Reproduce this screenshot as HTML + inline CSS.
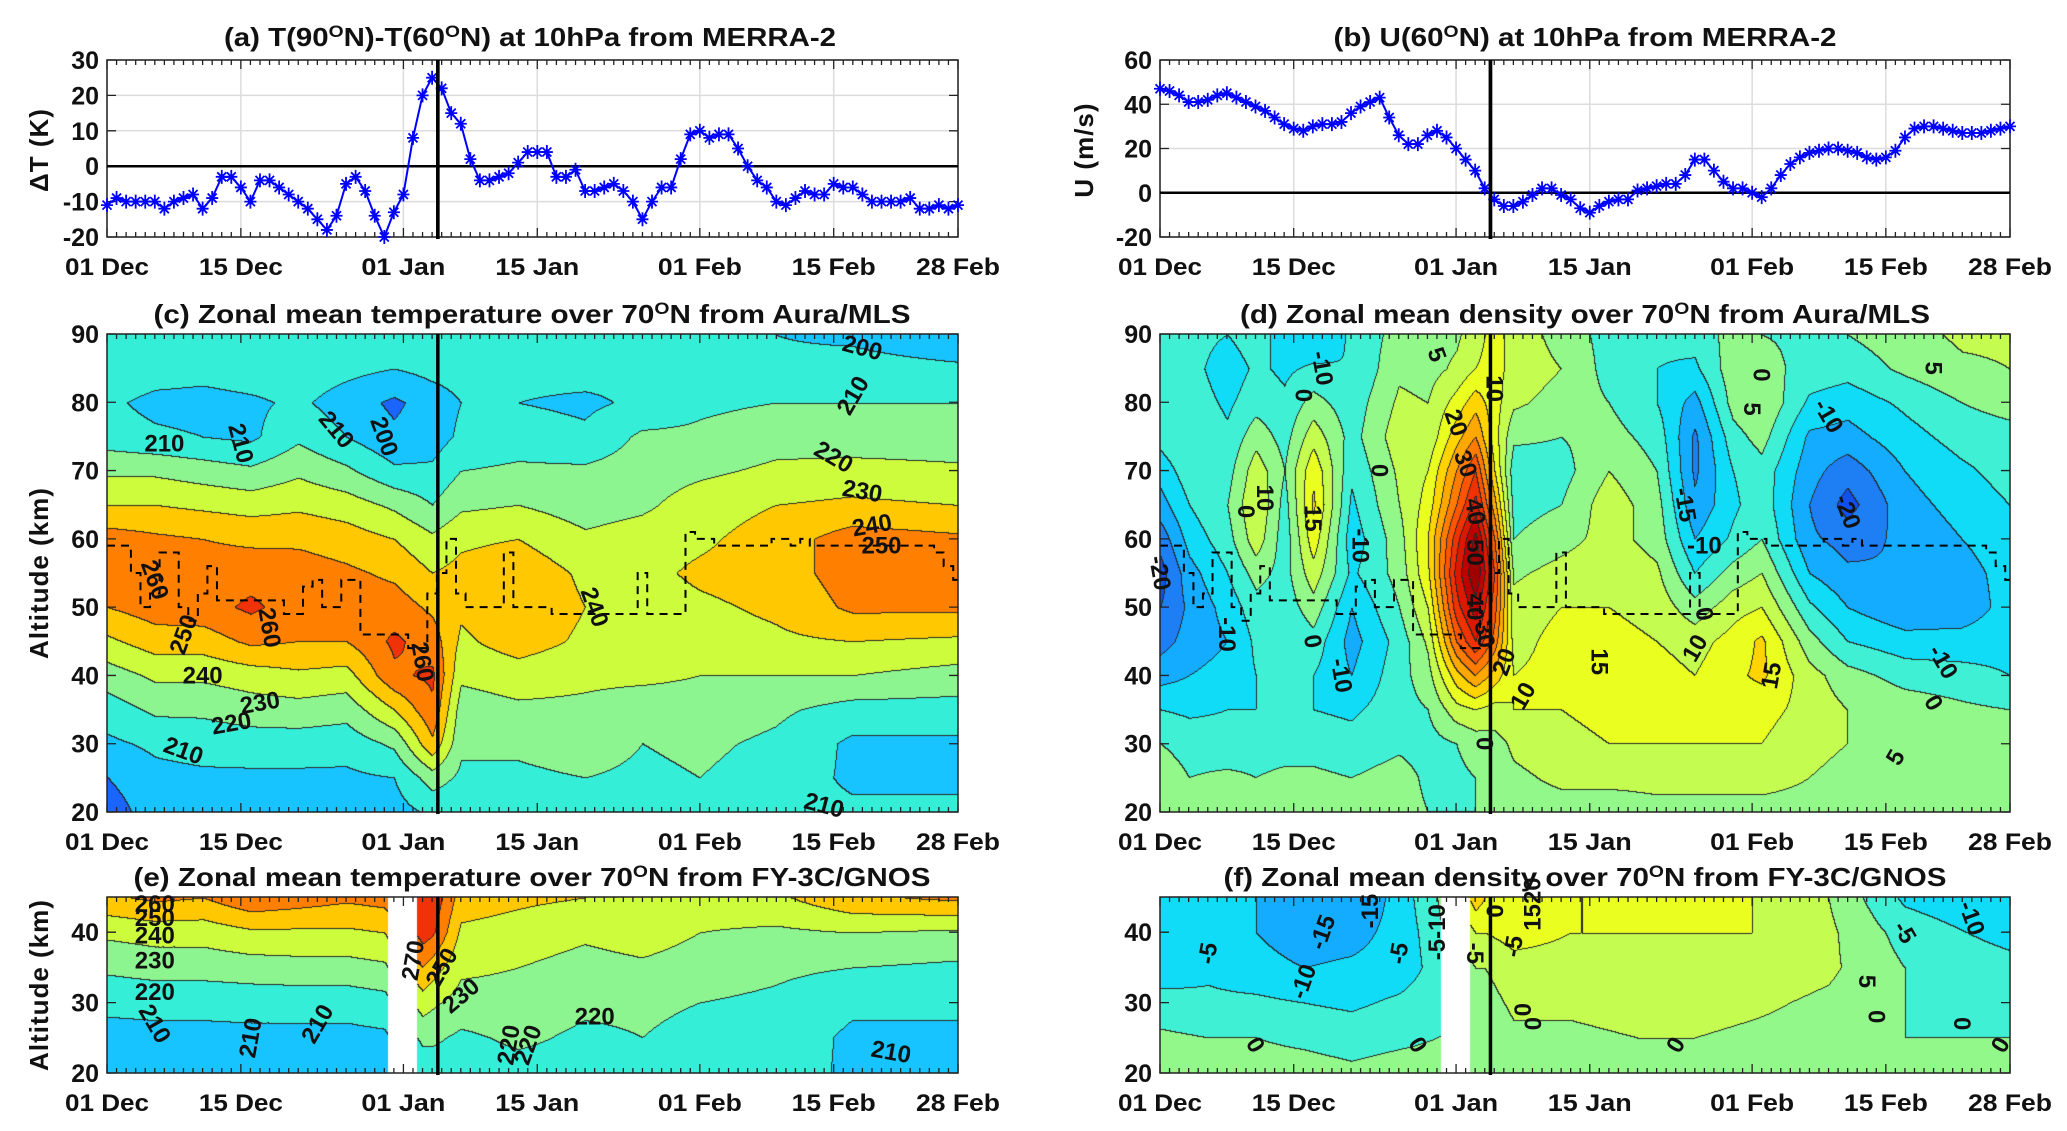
<!DOCTYPE html>
<html><head><meta charset="utf-8">
<style>
html,body{margin:0;padding:0;background:#fff;}
#wrap{position:relative;width:2067px;height:1131px;overflow:hidden;background:#fff;}
canvas{position:absolute;}
svg{position:absolute;left:0;top:0;}
text{font-family:"Liberation Sans",Arial,sans-serif;font-weight:bold;fill:#111;}
</style></head>
<body>
<div id="wrap">
<canvas id="cc" style="left:107px;top:334px" width="851" height="478"></canvas>
<canvas id="cd" style="left:1160px;top:334px" width="850" height="478"></canvas>
<canvas id="ce" style="left:107px;top:897px" width="851" height="176"></canvas>
<canvas id="cf" style="left:1160px;top:897px" width="850" height="176"></canvas>
<svg id="sv" width="2067" height="1131"></svg>
</div>
<script>
// ---------- data ----------
const dTdays = [-11,-9,-10,-10,-10,-10,-12,-10,-9,-8,-12,-9,-3,-3,-6,-10,-4,-4,-6,-8,-10,-12,-15,-18,-14,-5,-3,-7,-14,-20,-13,-8,8,20,25,22,15,12,2,-4,-4,-3,-2,1,4,4,4,-3,-3,-1,-7,-7,-6,-5,-7,-10,-15,-10,-6,-6,2,9,10,8,9,9,5,0,-4,-6,-10,-11,-9,-7,-8,-8,-5,-6,-6,-8,-10,-10,-10,-10,-9,-12,-12,-11,-12,-11];
const uWind = [47,46,44,41,41,42,44,45,43,41,39,37,34,31,29,28,30,31,31,32,36,39,41,43,34,26,22,22,26,28,25,20,15,10,2,-3,-6,-6,-4,-1,2,2,-1,-3,-7,-9,-6,-4,-3,-3,1,2,3,4,4,8,15,15,10,5,2,2,0,-2,2,8,13,16,18,19,20,20,19,18,16,15,16,19,25,29,30,30,29,28,27,27,27,28,29,30];
const stratopause = [59,59,59,55,50,52,58,58,50,48,52,56,51,51,51,51,51,51,51,49,49,53,54,50,50,54,54,46,46,46,46,46,44,44,52,55,60,52,50,50,50,50,58,50,50,50,50,49,49,49,49,49,49,49,49,49,55,49,49,49,49,61,60,60,59,59,59,59,59,59,60,60,59,60,59,59,59,59,59,59,59,59,59,59,59,59,59,58,56,54];
const xTickDays = [0,14,31,45,62,76,89];
const xTickLabels = ['01 Dec','15 Dec','01 Jan','15 Jan','01 Feb','15 Feb','28 Feb'];
const eventDay = 34.6;
const gapDays = [29.4,32.4];
const cDays = [0,5,10,15,20,25,30,34,37,43,50,56,62,70,78,89];
const cAlts = [20,25,30,35,40,45,50,55,60,65,70,75,80,85,90];
const cTemp = [
[195,200,208,215,225,238,250,258,255,240,228,215,212,218,212],
[205,207,212,222,232,245,255,258,252,240,228,212,207,215,212],
[206,208,214,222,232,245,256,255,250,238,225,210,206,214,212],
[206,208,215,225,235,252,262,256,248,236,222,208,208,216,212],
[206,208,215,226,238,250,255,255,248,238,228,218,212,216,212],
[206,208,214,224,236,250,256,252,245,235,222,210,205,213,212],
[206,210,222,240,258,262,255,248,240,228,212,202,198,210,212],
[212,225,248,258,262,255,248,240,232,220,212,205,205,213,210],
[212,218,222,225,232,238,242,243,238,228,220,212,210,214,212],
[212,218,222,228,235,245,248,247,240,230,222,215,210,213,212],
[214,220,225,228,232,238,240,238,232,225,222,212,208,214,212],
[214,218,220,225,232,235,235,237,235,228,225,222,212,212,212],
[216,220,222,226,230,235,238,242,238,235,228,222,218,212,212],
[214,216,218,222,230,238,242,245,245,240,232,226,220,212,210],
[212,208,208,216,230,240,252,255,255,242,234,224,220,214,208],
[212,208,208,216,226,238,252,255,252,240,232,224,220,212,202]];
const dDays = [0,3,7,10,13,16,20,25,28,31,33,35,37,42,47,52,56,60,63,68,72,78,84,89];
const dDens = [
[2,3,0,-5,-12,-17,-20,-22,-18,-12,-8,-3,-2,-3,-2],
[2,0,-2,-6,-10,-13,-14,-12,-8,-5,-2,0,-2,-3,-3],
[3,1,-3,-5,-8,-10,-8,-5,-2,0,-2,-4,-6,-8,-5],
[3,0,-2,-5,-5,-4,-2,2,8,10,8,3,-2,-4,-2],
[3,1,-2,-4,-4,-5,-3,-2,-3,-2,0,-2,-4,-6,-8],
[2,1,-2,-5,-5,-2,3,8,13,16,14,8,2,-4,-10],
[2,0,-3,-6,-10,-12,-10,-6,-8,-6,-4,-2,-3,-5,-4],
[2,2,-1,-2,-2,-3,0,2,3,5,6,8,6,4,2],
[0,-1,-2,0,3,6,10,14,15,12,10,6,5,3,3],
[0,-1,0,8,18,30,38,42,38,30,25,18,12,6,4],
[0,0,2,10,25,40,48,55,52,42,35,25,18,10,8],
[0,2,3,8,18,28,32,35,30,22,15,12,12,12,12],
[3,4,6,10,10,8,7,4,0,-2,-3,1,6,8,8],
[3,6,8,10,12,12,10,7,3,0,-2,0,3,5,3],
[3,6,10,12,13,12,10,9,7,8,5,2,0,-2,-2],
[4,6,10,12,12,10,8,6,3,2,0,-2,-5,-5,-4],
[4,6,10,10,10,8,2,-5,-10,-14,-16,-16,-12,-6,-3],
[4,6,10,12,14,12,8,2,-4,-6,-5,-2,2,3,2],
[4,6,10,12,16,16,10,5,0,-2,-2,2,5,2,0],
[4,5,6,8,7,2,-4,-10,-14,-15,-13,-11,-6,-2,-1],
[2,4,5,5,2,-5,-10,-14,-17,-22,-18,-12,-8,-3,0],
[2,3,4,3,-2,-8,-14,-15,-14,-12,-10,-7,-4,1,3],
[3,3,3,1,-3,-8,-13,-12,-10,-8,-6,-3,0,4,6],
[3,3,2,0,-5,-7,-8,-8,-7,-5,-3,-2,2,5,6]];
const eDays = [0,5,10,15,20,25,29,33,34,37,43,50,56,62,70,78,89];
const eAlts = [20,25,30,35,40,45];
const eTemp = [
[206,207,212,222,232,248],
[206,207,213,224,234,252],
[206,207,213,224,234,250],
[205,207,214,225,238,258],
[206,207,214,226,238,255],
[206,207,214,226,238,252],
[206,208,216,228,240,254],
[214,222,235,250,265,270],
[214,222,232,245,262,268],
[214,218,226,232,238,245],
[216,222,226,230,236,242],
[216,218,222,226,232,240],
[218,220,222,228,235,238],
[215,217,220,225,230,235],
[215,216,218,222,228,238],
[208,208,212,220,230,248],
[208,208,212,218,228,252]];
const fDens = [
[3,1,-3,-8,-10,-10],
[2,0,-4,-6,-7,-7],
[2,0,-4,-8,-10,-10],
[2,-1,-5,-10,-13,-13],
[1,-2,-6,-9,-12,-15],
[2,-1,-4,-8,-8,-8],
[2,0,-2,-3,-2,0],
[2,1,3,5,10,18],
[2,1,3,5,10,15],
[3,4,6,8,12,14],
[3,4,6,8,10,10],
[3,5,7,9,10,10],
[3,5,7,9,10,10],
[2,4,6,8,10,10],
[2,3,4,6,6,5],
[1,0,0,0,-2,-6],
[1,0,-1,-3,-7,-10]];

// ---------- helpers ----------
const NS='http://www.w3.org/2000/svg';
const sv=document.getElementById('sv');
function mk(tag,attrs,parent){const e=document.createElementNS(NS,tag);for(const k in attrs)e.setAttribute(k,attrs[k]);(parent||sv).appendChild(e);return e;}
function hex(h){return [parseInt(h.substr(1,2),16),parseInt(h.substr(3,2),16),parseInt(h.substr(5,2),16)];}
const tempPal=['#1040e0','#1a64ff','#18c4ff','#34eed8','#8cf590','#cdfc3c','#ffc800','#ff8000','#f03208','#c00000'].map(hex);
const tempMap=L=>tempPal[Math.max(0,Math.min(tempPal.length-1,L-18))];
// density palette: lower bounds -30,-25,...
const densPal=['#1030d0','#1050f0','#1e7ef4','#14acff','#10dcf8','#40f0d4','#92f88a','#c4fc50','#eaff20','#ffd400','#ffa800','#ff7c00','#ff5400','#f03200','#dc1800','#c00000','#a00000'].map(hex);
const densMap=L=>densPal[Math.max(0,Math.min(densPal.length-1,L+6))];
function interp1(arr,x){let i=0;while(i<arr.length-2&&x>arr[i+1])i++;let f=(x-arr[i])/(arr[i+1]-arr[i]);f=Math.max(0,Math.min(1,f));return [i,f];}
function drawField(id,days,alts,vals,step,cmap,gap){
  const cv=document.getElementById(id),ctx=cv.getContext('2d'),W=cv.width,H=cv.height;
  const img=ctx.createImageData(W,H),lev=new Float64Array(W*H);
  const a0=alts[0],a1=alts[alts.length-1];
  for(let x=0;x<W;x++){
    const d=x/(W-1)*89;const [i,f]=interp1(days,d);
    const inGap=gap&&d>=gap[0]&&d<=gap[1];
    for(let y=0;y<H;y++){
      const al=a1-y/(H-1)*(a1-a0);const [j,g]=interp1(alts,al);
      const v=(1-f)*((1-g)*vals[i][j]+g*vals[i][j+1])+f*((1-g)*vals[i+1][j]+g*vals[i+1][j+1]);
      const L=inGap?NaN:Math.floor(v/step);lev[y*W+x]=L;
      const k=(y*W+x)*4;
      if(inGap){img.data[k]=img.data[k+1]=img.data[k+2]=255;img.data[k+3]=255;continue;}
      let col=cmap(L);
      const edge=(x>0&&lev[y*W+x-1]!==L&&!isNaN(lev[y*W+x-1]))||(y>0&&lev[(y-1)*W+x]!==L);
      if(edge)col=[40,40,40];
      img.data[k]=col[0];img.data[k+1]=col[1];img.data[k+2]=col[2];img.data[k+3]=255;
    }
  }
  ctx.putImageData(img,0,0);
}
drawField('cc',cDays,cAlts,cTemp,10,tempMap,null);
drawField('cd',dDays,cAlts,dDens,5,densMap,null);
drawField('ce',eDays,eAlts,eTemp,10,tempMap,gapDays);
drawField('cf',eDays,eAlts,fDens,5,densMap,gapDays);

const P={
 a:{L:107,R:958,T:60,B:237,y0:-20,y1:30,yt:[-20,-10,0,10,20,30]},
 b:{L:1160,R:2010,T:60,B:237,y0:-20,y1:60,yt:[-20,0,20,40,60]},
 c:{L:107,R:958,T:334,B:812,y0:20,y1:90,yt:[20,30,40,50,60,70,80,90]},
 d:{L:1160,R:2010,T:334,B:812,y0:20,y1:90,yt:[20,30,40,50,60,70,80,90]},
 e:{L:107,R:958,T:897,B:1073,y0:20,y1:45,yt:[20,30,40]},
 f:{L:1160,R:2010,T:897,B:1073,y0:20,y1:45,yt:[20,30,40]}};
const X=(p,d)=>p.L+d*(p.R-p.L)/89;
const Y=(p,v)=>p.B-(v-p.y0)*(p.B-p.T)/(p.y1-p.y0);

function axes(key,grid){
  const p=P[key];
  const g=mk('g',{});
  
  
  if(grid){
    xTickDays.forEach(d=>{const l=mk('line',{x1:X(p,d),x2:X(p,d),y1:p.T,y2:p.B,stroke:'#dcdcdc','stroke-width':1.5},g);
      
      });
    p.yt.forEach(v=>{const l=mk('line',{x1:p.L,x2:p.R,y1:Y(p,v),y2:Y(p,v),stroke:'#dcdcdc','stroke-width':1.5},g);
      
      });
  }
  let dd='';
  for(let d=0;d<=89;d++){const x=X(p,d);dd+=`M${x} ${p.B}v-5M${x} ${p.T}v5`;}
  xTickDays.forEach(d=>{const x=X(p,d);dd+=`M${x} ${p.B}v-9M${x} ${p.T}v9`;});
  p.yt.forEach(v=>{const y=Y(p,v);dd+=`M${p.L} ${y}h9M${p.R} ${y}h-9`;});
  const tk=mk('path',{d:dd,stroke:'#222','stroke-width':1.3,fill:'none'},g);
  
  
  const fr=mk('rect',{x:p.L,y:p.T,width:p.R-p.L,height:p.B-p.T,fill:'none',stroke:'#222','stroke-width':1.5},g);
  
  
  xTickDays.forEach((d,i)=>{const t=mk('text',{x:X(p,d),y:p.B+38,'text-anchor':'middle','font-size':24,textLength:84,lengthAdjust:'spacingAndGlyphs'},g);t.textContent=xTickLabels[i];
    
    });
  p.yt.forEach(v=>{const t=mk('text',{x:p.L-8,y:Y(p,v)+9,'text-anchor':'end','font-size':25},g);t.textContent=v;
    
    });
  const vl=mk('line',{x1:X(p,eventDay),x2:X(p,eventDay),y1:p.T,y2:p.B+2,stroke:'#000','stroke-width':3.5},g);
  
  
}
function title(cx,y,parts,len,name){
  const t=mk('text',{x:cx,y:y,'text-anchor':'middle','font-size':26,textLength:len,lengthAdjust:'spacingAndGlyphs'});
  
  
  parts.forEach(pp=>{const s=mk('tspan',pp[1]?{dy:-9,'font-size':17}:{dy:pp[2]||0},t);s.textContent=pp[0];});
}
function ylabel(x,y,txt,name){
  const t=mk('text',{x:0,y:0,'text-anchor':'middle','font-size':26,transform:`translate(${x},${y}) rotate(-90)`,'letter-spacing':'1'});
  t.textContent=txt;
  
  
}
function series(key,vals,name){
  const p=P[key];
  const z=mk('line',{x1:p.L,x2:p.R,y1:Y(p,0),y2:Y(p,0),stroke:'#000','stroke-width':2.5});
  
  
  const pts=vals.map((v,i)=>[X(p,i),Y(p,v)]);
  const ln=mk('polyline',{points:pts.map(q=>q.join(',')).join(' '),fill:'none',stroke:'#0000ff','stroke-width':2});
  
  
  let dd='';pts.forEach(([x,y])=>{dd+=`M${x-6} ${y}h12M${x} ${y-7}v14M${x-4.5} ${y-4.5}l9 9M${x-4.5} ${y+4.5}l9 -9`;});
  const mkr=mk('path',{d:dd,stroke:'#0000ff','stroke-width':1.8,fill:'none'});
  
  
}
function strat(key){
  const p=P[key];let dd='';
  stratopause.forEach((v,i)=>{const x0=X(p,Math.max(0,i-0.5)),x1=X(p,Math.min(89,i+0.5)),y=Y(p,v);dd+=(i?'L':'M')+x0+' '+y+'L'+x1+' '+y;});
  const s=mk('path',{d:dd,fill:'none',stroke:'#000','stroke-width':2,'stroke-dasharray':'8 6'});
  
  
}
function labels(key,list){
  const p=P[key];
  list.forEach(([d,a,txt,r])=>{const x=X(p,d),y=Y(p,a);
    const t=mk('text',{x:x,y:y+8,'text-anchor':'middle','font-size':24,transform:`rotate(${r===undefined?0:r} ${x} ${y})`});
    t.textContent=txt;
    
    });
}

axes('a',true);axes('b',true);
series('a',dTdays,'delta-t-series');series('b',uWind,'u-wind-series');
['a','b'].forEach(k=>{const p=P[k];const vl=mk('line',{x1:X(p,eventDay),x2:X(p,eventDay),y1:p.T,y2:p.B+2,stroke:'#000','stroke-width':3.5});
  
  });
strat('c');strat('d');
axes('c',false);axes('d',false);axes('e',false);axes('f',false);

labels('c',[[6,74,'210',0],[14,74,'210',75],[24,76,'210',50],[29,75,'200',70],[79,88,'200',15],[78,81,'210',-60],[76,72,'220',30],[79,67,'230',10],[80,62,'240',-10],[81,59,'250',0],[5,54,'260',70],[8,46,'250',-70],[10,40,'240',0],[16,36,'230',-10],[13,33,'220',-10],[8,29,'210',20],[17,47,'260',80],[51,50,'240',70],[33,42,'260',80],[75,21,'210',15]]);
labels('d',[[17,85,'-10',80],[15,81,'0',90],[29,87,'5',70],[35,82,'10',90],[31,77,'20',70],[32,71,'30',70],[33,64,'40',80],[33,58,'50',90],[33,50,'40',90],[34,46,'30',80],[36,42,'20',-70],[38,37,'10',-60],[34,30,'0',90],[23,70,'0',90],[11,66,'10',90],[9,64,'0',90],[16,63,'15',90],[21,59,'-10',90],[0,55,'-20',80],[7,46,'-10',90],[16,45,'0',80],[19,40,'-10',80],[46,42,'15',90],[56,44,'10',-60],[64,40,'15',-80],[55,65,'-15',80],[57,59,'-10',0],[57,49,'0',80],[62,79,'5',90],[63,84,'0',90],[70,78,'-10',60],[72,64,'-20',70],[82,42,'-10',60],[81,36,'0',60],[77,28,'5',-60],[81,85,'5',90]]);
labels('e',[[5,44,'260',0],[5,42,'250',0],[5,39.5,'240',0],[5,36,'230',0],[5,31.5,'220',0],[5,27,'210',60],[15,25,'210',-80],[22,27,'210',-60],[32,36,'270',-80],[35,35,'250',-60],[37,31,'230',-40],[42,24,'220',-80],[44,24,'220',-70],[51,28,'220',0],[82,23,'210',10]]);
labels('f',[[5,37,'-5',-80],[10,24,'0',60],[15,33,'-10',-70],[17,40,'-15',-70],[22,43,'-15',-90],[25,37,'-5',-80],[27,24,'0',60],[29,40,'-5-10',-90],[33,37,'-5',90],[35,43,'0',90],[37,38,'-5',-80],[39,44,'1520',-90],[38,29,'0',-90],[39,27,'0',90],[54,24,'0',-60],[74,33,'5',90],[75,28,'0',90],[78,40,'-5',60],[85,42,'-10',70],[84,27,'0',90],[88,24,'0',-60]]);

title(530,46,[['(a) T(90'],['O',1],['N)-T(60',0,9],['O',1],['N) at 10hPa from MERRA-2',0,9]],612,'panel-a-title');
title(1585,46,[['(b) U(60'],['O',1],['N) at 10hPa from MERRA-2',0,9]],503,'panel-b-title');
title(532,323,[['(c) Zonal mean temperature over 70'],['O',1],['N from Aura/MLS',0,9]],757,'panel-c-title');
title(1585,323,[['(d) Zonal mean density over 70'],['O',1],['N from Aura/MLS',0,9]],690,'panel-d-title');
title(532,886,[['(e) Zonal mean temperature over 70'],['O',1],['N from FY-3C/GNOS',0,9]],797,'panel-e-title');
title(1585,886,[['(f) Zonal mean density over 70'],['O',1],['N from FY-3C/GNOS',0,9]],723,'panel-f-title');
ylabel(48,150,'\u0394T (K)','panel-a-y-axis-title');
ylabel(1093,150,'U (m/s)','panel-b-y-axis-title');
ylabel(48,573,'Altitude (km)','panel-c-y-axis-title');
ylabel(48,985,'Altitude (km)','panel-e-y-axis-title');
</script>
</body></html>
